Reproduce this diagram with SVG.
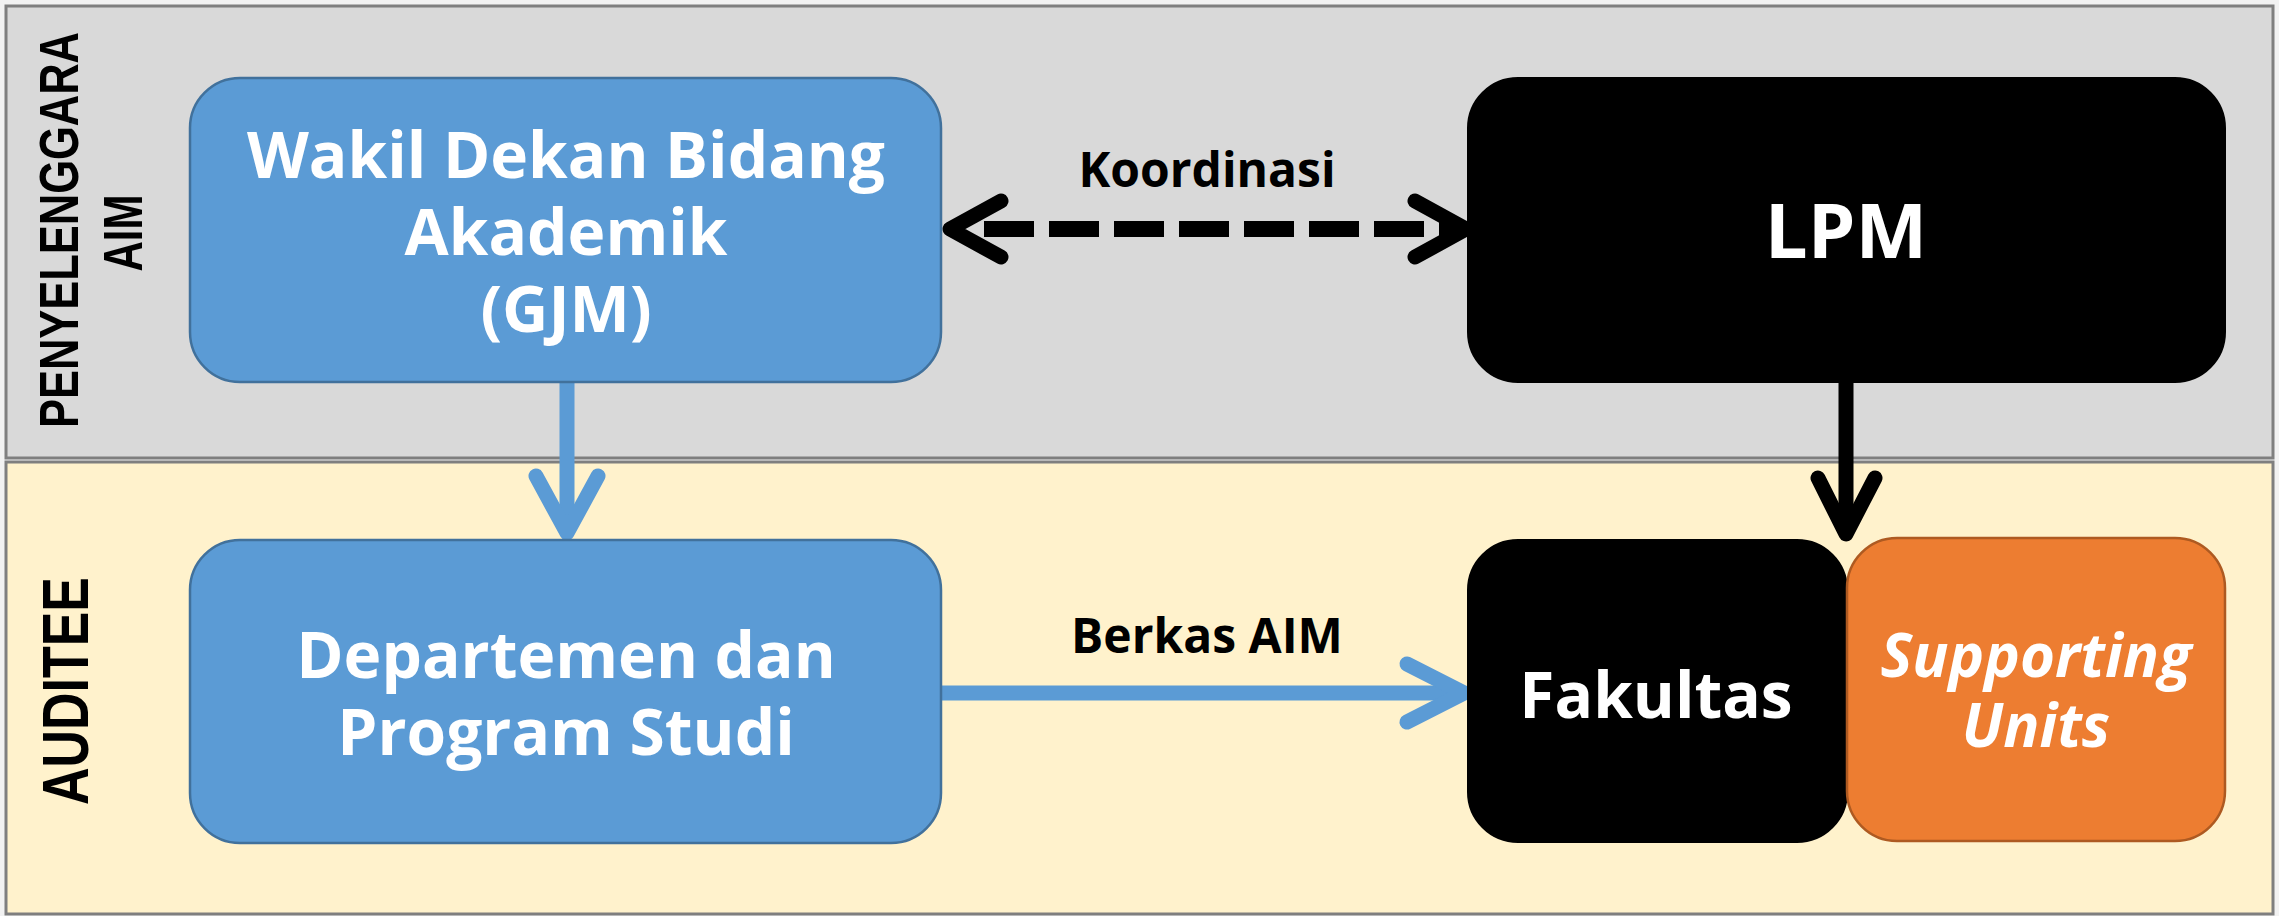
<svg xmlns="http://www.w3.org/2000/svg" width="2279" height="916" viewBox="0 0 2279 916">
<style>
.lane{stroke:#7f7f7f;stroke-width:3}
.lanelbl{font-family:"Liberation Sans",Arial,sans-serif;font-weight:bold;fill:#000}
.box{font-family:"Open Sans","Noto Sans",sans-serif;font-weight:bold;fill:#fff;text-anchor:middle}
.lbl{font-family:"Open Sans","Noto Sans",sans-serif;font-weight:bold;fill:#000;text-anchor:middle;font-size:48px}
.blue{fill:#5b9bd5;stroke:#41719c;stroke-width:2.5}
.blk{fill:#000;stroke:#000;stroke-width:2}
.org{fill:#ed7d31;stroke:#ae5a21;stroke-width:2.5}
.ln{fill:none;stroke-width:15;stroke-linecap:round;stroke-linejoin:round}
.shaft{fill:none;stroke-width:15;stroke-linecap:butt}
.dash{fill:none;stroke-width:16;stroke-linecap:butt;stroke-dasharray:50 15}
</style>
<rect width="2279" height="916" fill="#f2f2f2"/>
<g id="lane-penyelenggara">
<rect class="lane" x="6" y="6" width="2267" height="452" fill="#d9d9d9"/>
<text class="lanelbl" transform="translate(78,230) rotate(-90)" font-size="56" text-anchor="middle" textLength="396" lengthAdjust="spacingAndGlyphs">PENYELENGGARA</text>
<text class="lanelbl" transform="translate(142,233) rotate(-90)" font-size="56" text-anchor="middle" textLength="77" lengthAdjust="spacingAndGlyphs">AIM</text>
</g>
<g id="lane-auditee">
<rect class="lane" x="6" y="462" width="2267" height="452" fill="#fff2cc"/>
<text class="lanelbl" transform="translate(88,691) rotate(-90)" font-size="64" text-anchor="middle" textLength="228" lengthAdjust="spacingAndGlyphs">AUDITEE</text>
</g>
<g id="connectors">
<line class="dash" x1="984" y1="229" x2="1462" y2="229" stroke="#000"/>
<path class="ln" stroke="#000" d="M1001,201 L950,229 L1001,257 M1415,201 L1466,229 L1415,257"/>
<line class="shaft" x1="567" y1="382" x2="567" y2="530" stroke="#5b9bd5"/>
<path class="ln" stroke="#5b9bd5" d="M536,476 L567,533 L598,476"/>
<line class="shaft" x1="942" y1="693" x2="1460" y2="693" stroke="#5b9bd5"/>
<path class="ln" stroke="#5b9bd5" d="M1407,664 L1464,693 L1407,722"/>
<line class="shaft" x1="1846" y1="382" x2="1846" y2="530" stroke="#000"/>
<path class="ln" stroke="#000" d="M1818,478 L1846,534 L1875,478"/>
</g>
<g id="node-wakil">
<rect class="blue" x="190" y="78" width="751" height="304" rx="50"/>
<text class="box" font-size="64"><tspan x="566" y="178">Wakil Dekan Bidang</tspan><tspan x="566" y="255">Akademik</tspan><tspan x="566" y="332">(GJM)</tspan></text>
</g>
<g id="node-lpm">
<rect class="blk" x="1468" y="78" width="757" height="304" rx="50"/>
<text class="box" font-size="76" x="1846" y="258">LPM</text>
</g>
<g id="node-departemen">
<rect class="blue" x="190" y="540" width="751" height="303" rx="50"/>
<text class="box" font-size="64"><tspan x="566" y="678">Departemen dan</tspan><tspan x="566" y="755">Program Studi</tspan></text>
</g>
<g id="node-fakultas">
<rect class="blk" x="1468" y="540" width="379" height="302" rx="50"/>
<text class="box" font-size="64" x="1656" y="718">Fakultas</text>
</g>
<g id="node-supporting">
<rect class="org" x="1847" y="538" width="378" height="303" rx="50"/>
<text class="box" font-size="60" font-style="italic"><tspan x="2036" y="677">Supporting</tspan><tspan x="2036" y="747">Units</tspan></text>
</g>
<text class="lbl" x="1207" y="187">Koordinasi</text>
<text class="lbl" x="1207" y="653">Berkas AIM</text>
</svg>
